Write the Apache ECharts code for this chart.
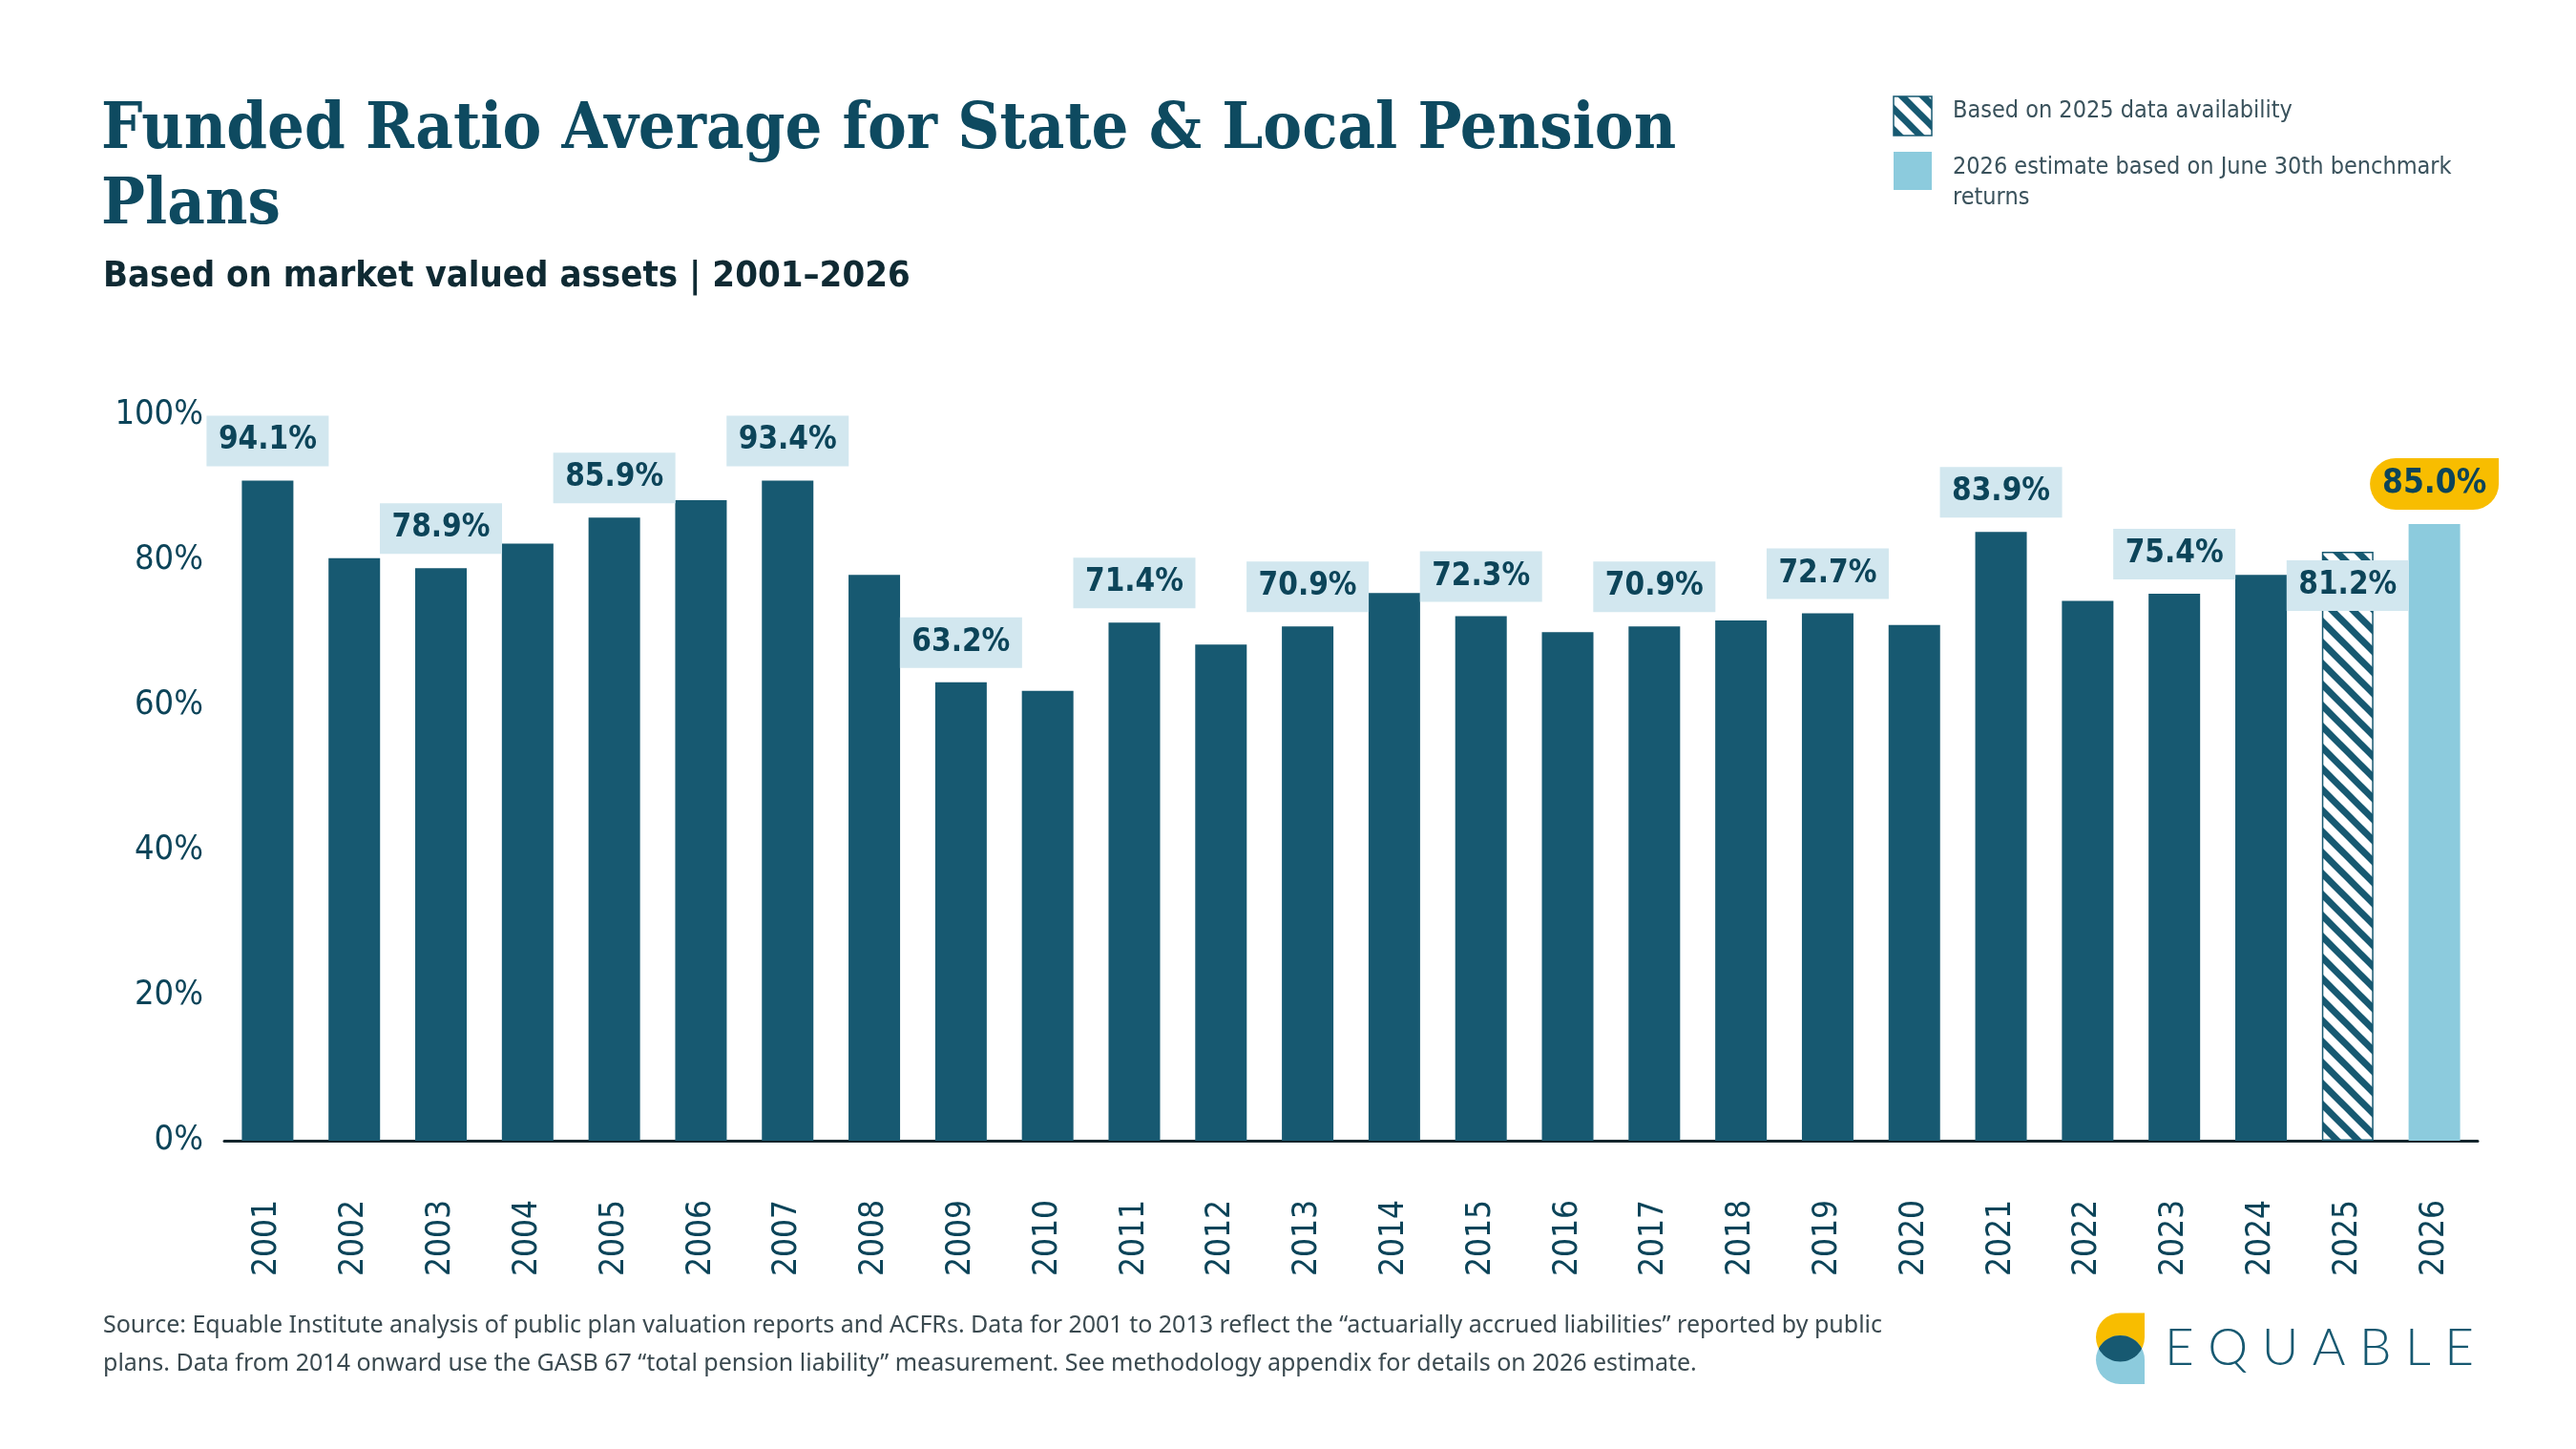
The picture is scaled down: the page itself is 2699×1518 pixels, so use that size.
<!DOCTYPE html>
<html>
<head>
<meta charset="utf-8">
<title>Funded Ratio Average for State & Local Pension Plans</title>
<script src="https://cdn.jsdelivr.net/npm/echarts@6/dist/echarts.min.js"></script>
<style>
    html, body { margin: 0; padding: 0; background: #fff; }
    #chart { width: 2699px; height: 1518px; }
</style>
</head>
<body>
<div id="chart"></div>
<script>
// values (2001 and 2007 bars are drawn lower than their printed labels)
const years = ['2001', '2002', '2003', '2004', '2005', '2006', '2007', '2008', '2009', '2010', '2011', '2012', '2013',
    '2014', '2015', '2016', '2017', '2018', '2019', '2020', '2021', '2022', '2023', '2024', '2025', '2026'];
const funded = [91.0, 80.3, 78.9, 82.3, 85.9, 88.3, 91.0, 78.0, 63.2, 62.0, 71.4, 68.4, 70.9,
    75.5, 72.3, 70.1, 70.9, 71.7, 72.7, 71.1, 83.9, 74.4, 75.4, 78.0, 81.2, 85.0];
const valueLabels = ['94.1%', '', '78.9%', '', '85.9%', '', '93.4%', '', '63.2%', '', '71.4%', '', '70.9%',
    '', '72.3%', '', '70.9%', '', '72.7%', '', '83.9%', '', '75.4%', '', '81.2%', '85.0%'];
const yMax = 100;
const yStep = 20;
const hatchYear = '2025';
const estimateYear = '2026';

const DARK = '#175971';
const INK = '#0c4459';
const LABEL_BG = '#d2e7ef';
const LIGHT = '#8ccbdd';
const YELLOW = '#f8bd00';
const COND = "'DejaVu Sans Condensed', 'Liberation Sans Narrow', 'DejaVu Sans', sans-serif";
const SERIF = "'DejaVu Serif Condensed', 'DejaVu Serif', serif";

function makeHatch(size, lw) {
    const c = document.createElement('canvas');
    c.width = size;
    c.height = size;
    const ctx = c.getContext('2d');
    ctx.fillStyle = '#fff';
    ctx.fillRect(0, 0, size, size);
    ctx.strokeStyle = DARK;
    ctx.lineWidth = lw;
    for (let k = -1; k <= 1; k++) {
        ctx.beginPath();
        ctx.moveTo(-size, (k - 1) * size);
        ctx.lineTo(2 * size, (k + 2) * size);
        ctx.stroke();
    }
    return c;
}
const hatch = { image: makeHatch(22, 7), repeat: 'repeat' };

const barData = funded.map((v, i) => {
    const item = { value: v, label: { show: valueLabels[i] !== '' } };
    if (years[i] === hatchYear) {
        item.itemStyle = { color: hatch, borderColor: DARK, borderWidth: 1.5 };
        item.label.position = 'insideTop';
        item.label.distance = 9;
    }
    if (years[i] === estimateYear) {
        item.itemStyle = { color: LIGHT };
        item.label.backgroundColor = YELLOW;
        item.label.borderRadius = [27, 0, 27, 27];
        item.label.width = 135;
        item.label.height = 54;
        item.label.lineHeight = 54;
        item.label.fontSize = 35;
    }
    return item;
});

// logo: lens where the two leaves overlap, as a polygon along two arcs
const lensPts = [];
const lcx = 2221.5, r = 25.5, yTopC = 1401, yBotC = 1424.5;
const half = Math.acos(((yBotC - yTopC) / 2) / r);
for (let k = 0; k <= 20; k++) {
    const a = -Math.PI / 2 - half + (2 * half * k) / 20;
    lensPts.push([lcx + r * Math.cos(a), yBotC + r * Math.sin(a)]);
}
for (let k = 0; k <= 20; k++) {
    const a = Math.PI / 2 - half + (2 * half * k) / 20;
    lensPts.push([lcx + r * Math.cos(a), yTopC + r * Math.sin(a)]);
}

// letter-spaced wordmark
const measure = document.createElement('canvas').getContext('2d');
measure.font = "300 53px Lato";
const logoLetters = [];
let lx = 2268;
'EQUABLE'.split('').forEach((ch) => {
    logoLetters.push({
        type: 'text',
        style: { x: lx, y: 1413, text: ch, font: "300 53px Lato", fill: DARK, verticalAlign: 'middle' },
    });
    lx += measure.measureText(ch).width + 14.5;
});

const chart = echarts.init(document.getElementById('chart'));
chart.setOption({
    animation: false,
    backgroundColor: '#fff',
    title: [
        {
            text: 'Funded Ratio Average for State & Local Pension\nPlans',
            left: 106,
            top: 98,
            padding: 0,
            textStyle: { fontFamily: SERIF, fontWeight: 'bold', fontSize: 68, lineHeight: 79, color: '#0e4a60' },
        },
        {
            text: 'Based on market valued assets | 2001\u20132026',
            left: 108,
            top: 270,
            padding: 0,
            textStyle: { fontFamily: COND, fontWeight: 'bold', fontSize: 38, lineHeight: 40, color: '#0f2a33' },
        },
    ],
    grid: { left: 235, right: 103, top: 435, bottom: 323 },
    xAxis: {
        type: 'category',
        data: years,
        axisLine: { lineStyle: { color: '#14252c', width: 3 } },
        axisTick: { show: false },
        axisLabel: { rotate: 90, margin: 62, fontFamily: COND, fontSize: 35, color: INK, interval: 0 },
    },
    yAxis: {
        type: 'value',
        min: 0,
        max: yMax,
        interval: yStep,
        splitLine: { show: false },
        axisLine: { show: false },
        axisTick: { show: false },
        axisLabel: { formatter: '{value}%', margin: 22, fontFamily: COND, fontSize: 36, color: INK },
    },
    series: [
        {
            type: 'bar',
            data: barData,
            barWidth: 54,
            itemStyle: { color: DARK },
            emphasis: { disabled: true },
            label: {
                show: true,
                position: 'top',
                distance: 15,
                formatter: (p) => valueLabels[p.dataIndex],
                width: 128,
                height: 53,
                lineHeight: 53,
                backgroundColor: LABEL_BG,
                color: INK,
                fontFamily: COND,
                fontWeight: 'bold',
                fontSize: 33,
            },
        },
    ],
    graphic: [
        // legend
        { type: 'rect', shape: { x: 1984, y: 101, width: 40, height: 41 }, style: { fill: hatch, stroke: DARK, lineWidth: 1.5 } },
        {
            type: 'text',
            style: { x: 2046, y: 116, text: 'Based on 2025 data availability', font: "25px " + COND, fill: '#3a525c', verticalAlign: 'middle' },
        },
        { type: 'rect', shape: { x: 1984, y: 159, width: 40, height: 40 }, style: { fill: LIGHT } },
        {
            type: 'text',
            style: {
                x: 2046, y: 159, text: '2026 estimate based on June 30th benchmark\nreturns',
                font: "25px " + COND, lineHeight: 32, fill: '#3a525c', verticalAlign: 'top',
            },
        },
        // source note
        {
            type: 'text',
            style: {
                x: 108, y: 1369,
                text: 'Source: Equable Institute analysis of public plan valuation reports and ACFRs. Data for 2001 to 2013 reflect the \u201cactuarially accrued liabilities\u201d reported by public\nplans. Data from 2014 onward use the GASB 67 \u201ctotal pension liability\u201d measurement. See methodology appendix for details on 2026 estimate.',
                font: "25px 'Noto Sans', sans-serif", lineHeight: 40, fill: '#3b4a50', verticalAlign: 'top',
            },
        },
        // logo mark
        { type: 'rect', shape: { x: 2196, y: 1375.5, width: 51, height: 51, r: [25.5, 0, 25.5, 25.5] }, style: { fill: YELLOW } },
        { type: 'rect', shape: { x: 2196, y: 1399, width: 51, height: 51, r: [25.5, 25.5, 0, 25.5] }, style: { fill: LIGHT } },
        { type: 'polygon', shape: { points: lensPts }, style: { fill: DARK } },
        ...logoLetters,
    ],
});
</script>
</body>
</html>
